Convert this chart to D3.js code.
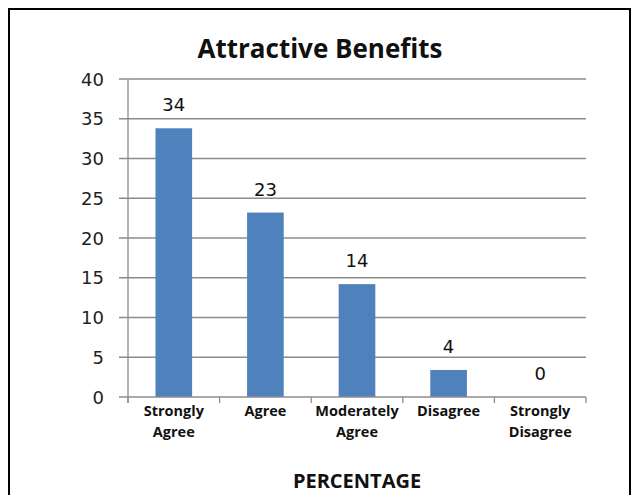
<!DOCTYPE html>
<html>
<head>
<meta charset="utf-8">
<script src="https://cdn.jsdelivr.net/npm/d3@7"></script>
<style>
  body { margin: 0; background: #fff; }
  .tickLabel { font-family: "DejaVu Sans", Verdana, sans-serif; font-size: 18px; fill: #222; }
  .catLabel { font-family: "Open Sans", "Noto Sans", sans-serif; font-weight: bold; font-size: 14.5px; fill: #111; }
  .valueLabel { font-family: "DejaVu Sans", Verdana, sans-serif; font-size: 18px; fill: #111; }
</style>
</head>
<body>
<div id="chartDIV"></div>
<script>
var categories = [["Strongly","Agree"],["Agree"],["Moderately","Agree"],["Disagree"],["Strongly","Disagree"]];
var values = [33.8, 23.2, 14.2, 3.4, 0];
var valueLabels = ["34","23","14","4","0"];
var yTicks = [0,5,10,15,20,25,30,35,40];

var PLOT_LEFT = 128, PLOT_RIGHT = 586, PLOT_TOP = 79, PLOT_BOTTOM = 397;
var BAR_COLOR = "#4f81bd";

var svg = d3.select("#chartDIV")
    .append("svg")
    .attr("width", 639)
    .attr("height", 495);

//outer frame
svg.append("rect")
  .attr("x", 9).attr("y", 9)
  .attr("width", 621).attr("height", 500)
  .attr("fill", "none").attr("stroke", "#000").attr("stroke-width", 2);

var x = d3.scaleBand()
  .domain(d3.range(categories.length))
  .range([PLOT_LEFT, PLOT_RIGHT])
  .paddingInner(0.6)
  .paddingOuter(0.3);

var y = d3.scaleLinear().domain([0, 40]).range([PLOT_BOTTOM, PLOT_TOP]);

//gridlines (the zero line is the axis)
svg.selectAll(".grid")
  .data(yTicks.filter(function(d) { return d > 0 }))
  .enter()
  .append("line")
  .attr("x1", PLOT_LEFT - 9).attr("x2", PLOT_RIGHT)
  .attr("y1", function(d) { return y(d) }).attr("y2", function(d) { return y(d) })
  .attr("stroke", "#8c8c8c").attr("stroke-width", 1.3);

//y axis labels
svg.selectAll(".tickLabel")
  .data(yTicks)
  .enter()
  .append("text")
  .attr("class", "tickLabel")
  .attr("x", 104)
  .attr("y", function(d) { return y(d) + 6.5 })
  .attr("text-anchor", "end")
  .text(function(d) { return d });

//bars
svg.selectAll(".bar")
  .data(values)
  .enter()
  .append("rect")
  .attr("class", "bar")
  .attr("x", function(d,i) { return x(i) })
  .attr("width", x.bandwidth())
  .attr("y", function(d) { return y(d) })
  .attr("height", function(d) { return PLOT_BOTTOM - y(d) })
  .attr("fill", BAR_COLOR);

//axes lines
svg.append("line")
  .attr("x1", PLOT_LEFT).attr("x2", PLOT_LEFT)
  .attr("y1", PLOT_TOP).attr("y2", PLOT_BOTTOM + 6)
  .attr("stroke", "#8c8c8c").attr("stroke-width", 1.3);
svg.append("line")
  .attr("x1", PLOT_LEFT - 9).attr("x2", PLOT_RIGHT)
  .attr("y1", PLOT_BOTTOM).attr("y2", PLOT_BOTTOM)
  .attr("stroke", "#8c8c8c").attr("stroke-width", 1.3);

//category ticks between bands
var step = x.step();
svg.selectAll(".catTick")
  .data(d3.range(categories.length + 1))
  .enter()
  .append("line")
  .attr("x1", function(i) { return PLOT_LEFT + i * step })
  .attr("x2", function(i) { return PLOT_LEFT + i * step })
  .attr("y1", PLOT_BOTTOM).attr("y2", PLOT_BOTTOM + 6)
  .attr("stroke", "#8c8c8c").attr("stroke-width", 1.3);

//value labels above bars
svg.selectAll(".valueLabel")
  .data(values)
  .enter()
  .append("text")
  .attr("class", "valueLabel")
  .attr("x", function(d,i) { return x(i) + x.bandwidth()/2 })
  .attr("y", function(d) { return y(d) - 17 })
  .attr("text-anchor", "middle")
  .text(function(d,i) { return valueLabels[i] });

//category labels, one tspan per line
svg.selectAll(".catLabel")
  .data(categories)
  .enter()
  .append("text")
  .attr("class", "catLabel")
  .attr("text-anchor", "middle")
  .attr("y", 416)
  .each(function(lines, i) {
    var t = d3.select(this);
    var cx = x(i) + x.bandwidth()/2;
    lines.forEach(function(line, j) {
      t.append("tspan").attr("x", cx).attr("dy", j == 0 ? 0 : 21).text(line);
    });
  });

//title and axis title
svg.append("text")
  .attr("x", 320).attr("y", 58)
  .attr("text-anchor", "middle")
  .style("font-family", "'Open Sans', 'Noto Sans', sans-serif")
  .style("font-weight", "bold").style("font-size", "26px").style("fill", "#111")
  .text("Attractive Benefits");

svg.append("text")
  .attr("x", (PLOT_LEFT + PLOT_RIGHT)/2).attr("y", 488)
  .attr("text-anchor", "middle")
  .style("font-family", "'Open Sans', 'Noto Sans', sans-serif")
  .style("font-weight", "bold").style("font-size", "20px").style("fill", "#111")
  .text("PERCENTAGE");
</script>
</body>
</html>
